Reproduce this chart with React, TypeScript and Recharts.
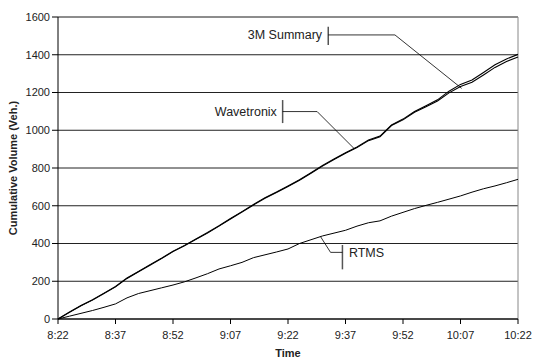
import React from "react";
import {
  CartesianGrid,
  Line,
  LineChart,
  ReferenceDot,
  ReferenceLine,
  XAxis,
  YAxis,
} from "recharts";

document.body.style.margin = "0";

// minutes after 8:22
const minutes = [
  0, 3, 6, 9, 12, 15, 18, 21, 24, 27, 30, 33, 36, 39, 42, 45, 48, 51, 54, 57,
  60, 63, 66, 69, 72, 75, 78, 81, 84, 87, 90, 93, 96, 99, 102, 105, 108, 111,
  114, 117, 120,
];

const summary3m = [
  0, 37, 72, 102, 137, 172, 217, 252, 288, 322, 359, 390, 424, 458, 494, 532,
  569, 607, 643, 673, 705, 738, 775, 813, 848, 881, 911, 948, 969, 1028, 1059,
  1099, 1130, 1161, 1207, 1243, 1266, 1306, 1347, 1378, 1402,
];

const wavetronix = [
  0, 35, 70, 100, 135, 170, 215, 250, 285, 320, 357, 388, 422, 455, 492, 530,
  567, 604, 640, 670, 702, 735, 772, 810, 845, 878, 908, 945, 965, 1025, 1055,
  1095, 1125, 1155, 1198, 1232, 1254, 1293, 1333, 1364, 1388,
];

const rtms = [
  0, 15, 30, 45, 62, 80, 112, 135, 150, 165, 180, 197, 218, 240, 265, 282, 300,
  325, 340, 355, 371, 400, 420, 440, 455, 470, 492, 510, 520, 545, 565, 585,
  602, 618, 635, 652, 672, 690, 705, 722, 740,
];

const xTicks = [0, 15, 30, 45, 60, 75, 90, 105, 120];
const xTickLabels = ["8:22", "8:37", "8:52", "9:07", "9:22", "9:37", "9:52", "10:07", "10:22"];
const yTicks = [0, 200, 400, 600, 800, 1000, 1200, 1400, 1600];

const data = minutes.map((m, i) => ({
  t: m,
  summary: summary3m[i],
  wave: wavetronix[i],
  rtms: rtms[i],
}));

const FONT = "'Liberation Sans', Arial, sans-serif";

const callout = (text: string, anchor: "start" | "end") => (p: any) => (
  <text
    x={p.cx}
    y={p.cy}
    textAnchor={anchor}
    dominantBaseline="central"
    fontSize={12.5}
    fontFamily={FONT}
    fill="#222"
  >
    {text}
  </text>
);

export default function App() {
  return (
    <LineChart
      width={533}
      height={358}
      data={data}
      margin={{ top: 17, right: 15, left: 0, bottom: 0 }}
      style={{ fontFamily: FONT }}
    >
      <CartesianGrid vertical={false} stroke="#222" strokeWidth={1} />
      <XAxis
        dataKey="t"
        type="number"
        domain={[0, 120]}
        ticks={xTicks}
        tickFormatter={(v: number) => xTickLabels[xTicks.indexOf(v)]}
        height={39}
        tickSize={5}
        tickMargin={7}
        stroke="#000"
        tick={{ fill: "#222", fontSize: 11 }}
        label={{
          value: "Time",
          position: "insideBottom",
          offset: 1,
          fontSize: 11,
          fontWeight: "bold",
          fill: "#222",
        }}
      />
      <YAxis
        type="number"
        domain={[0, 1600]}
        ticks={yTicks}
        width={58}
        tickSize={6}
        tickMargin={2}
        stroke="#000"
        tick={{ fill: "#222", fontSize: 11 }}
        label={{
          content: ({ viewBox }: any) => {
            const cx = viewBox.x + 13;
            const cy = viewBox.y + viewBox.height / 2;
            return (
              <text
                x={cx}
                y={cy}
                transform={`rotate(-90 ${cx} ${cy})`}
                textAnchor="middle"
                dominantBaseline="central"
                fontSize={11}
                fontWeight="bold"
                fontFamily={FONT}
                fill="#222"
              >
                Cumulative Volume (Veh.)
              </text>
            );
          },
        }}
      />
      <ReferenceLine y={1600} stroke="#888" />
      <ReferenceLine x={120} stroke="#888" />

      <Line
        dataKey="rtms"
        type="linear"
        stroke="#000"
        strokeWidth={1}
        dot={false}
        isAnimationActive={false}
      />
      <Line
        dataKey="wave"
        type="linear"
        stroke="#000"
        strokeWidth={1.1}
        dot={false}
        isAnimationActive={false}
      />
      <Line
        dataKey="summary"
        type="linear"
        stroke="#000"
        strokeWidth={1.1}
        dot={false}
        isAnimationActive={false}
      />

      {/* 3M Summary callout */}
      <ReferenceLine segment={[{ x: 70.5, y: 1549 }, { x: 70.5, y: 1452 }]} stroke="#555" strokeWidth={1.5} />
      <ReferenceLine segment={[{ x: 70.5, y: 1505 }, { x: 87.9, y: 1505 }]} stroke="#000" strokeWidth={0.8} />
      <ReferenceLine segment={[{ x: 87.9, y: 1505 }, { x: 105.3, y: 1222 }]} stroke="#000" strokeWidth={0.8} />
      <ReferenceDot x={68.9} y={1505} r={1} shape={callout("3M Summary", "end")} />

      {/* Wavetronix callout */}
      <ReferenceLine segment={[{ x: 58.6, y: 1160 }, { x: 58.6, y: 1038 }]} stroke="#555" strokeWidth={1.5} />
      <ReferenceLine segment={[{ x: 58.6, y: 1099 }, { x: 67.6, y: 1099 }]} stroke="#000" strokeWidth={0.8} />
      <ReferenceLine segment={[{ x: 67.6, y: 1099 }, { x: 77.2, y: 904 }]} stroke="#000" strokeWidth={0.8} />
      <ReferenceDot x={57.1} y={1099} r={1} shape={callout("Wavetronix", "end")} />

      {/* RTMS callout */}
      <ReferenceLine segment={[{ x: 74.2, y: 392 }, { x: 74.2, y: 263 }]} stroke="#555" strokeWidth={1.5} />
      <ReferenceLine segment={[{ x: 74.2, y: 353 }, { x: 71.1, y: 353 }]} stroke="#000" strokeWidth={0.8} />
      <ReferenceLine segment={[{ x: 71.1, y: 353 }, { x: 68.5, y: 436 }]} stroke="#000" strokeWidth={0.8} />
      <ReferenceDot x={75.9} y={350} r={1} shape={callout("RTMS", "start")} />
    </LineChart>
  );
}
